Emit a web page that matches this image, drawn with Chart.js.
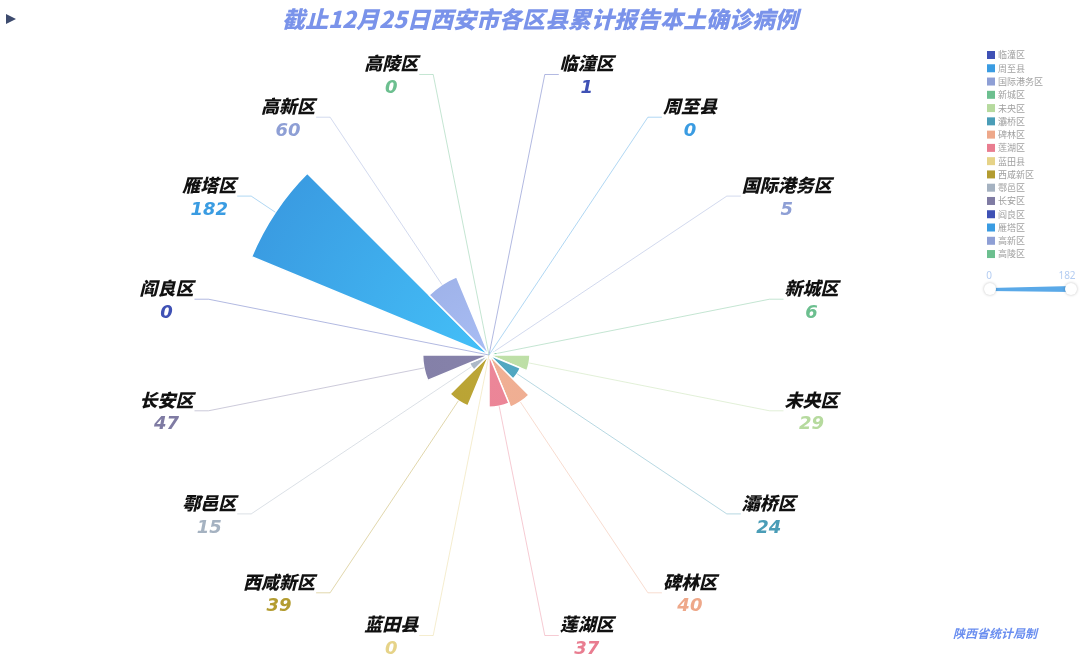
<!DOCTYPE html>
<html>
<head>
<meta charset="utf-8">
<script src="https://cdn.jsdelivr.net/npm/chart.js@4.4.0/dist/chart.umd.min.js"></script>
<style>
    html, body { margin: 0; padding: 0; background: #fff; }
    #wrap { position: relative; width: 1080px; height: 671px; }
</style>
</head>
<body>
<div id="wrap"><canvas id="rose-chart" width="1080" height="671"></canvas></div>
<script>
// Write your JavaScript code.

var districts = ["临潼区", "周至县", "国际港务区", "新城区", "未央区", "灞桥区", "碑林区", "莲湖区",
    "蓝田县", "西咸新区", "鄠邑区", "长安区", "阎良区", "雁塔区", "高新区", "高陵区"];
var cases = [1, 0, 5, 6, 29, 24, 40, 37, 0, 39, 15, 47, 0, 182, 60, 0];
var rangeMin = 0;
var rangeMax = 182;

var chartTitle = "截止12月25日西安市各区县累计报告本土确诊病例";
var footNote = "陕西省统计局制";

// palette repeats every 12 districts
var outerColors = ["#3f51b5", "#3a9ce2", "#8e9fd5", "#6cbf8f", "#b6da9e", "#4a9db7",
    "#eea88a", "#e97d90", "#e6d388", "#b39c30", "#a5b2c1", "#7f7ba3"];
var innerColors = ["#4a60c8", "#44c0f8", "#a8bdf4", "#78c99a", "#bfe0a8", "#52a8c2",
    "#f0b095", "#ec8799", "#e9d892", "#bca636", "#adb9c7", "#8682aa"];

function colorAt(i) { return outerColors[i % outerColors.length]; }

function hexAlpha(hex, a) {
    var r = parseInt(hex.substr(1, 2), 16), g = parseInt(hex.substr(3, 2), 16), b = parseInt(hex.substr(5, 2), 16);
    return "rgba(" + r + "," + g + "," + b + "," + a + ")";
}

var CX = 489, CY = 355, R = 257;

var decorPlugin = {
    id: "decor",
    afterDraw: function (chart) {
        var ctx = chart.ctx;
        ctx.save();

        // title
        ctx.font = "italic 900 23px 'Noto Sans CJK SC'";
        ctx.textAlign = "center";
        ctx.textBaseline = "middle";
        ctx.fillStyle = "#7a93ea";
        ctx.fillText(chartTitle, 540, 19);

        // little arrow top left
        ctx.fillStyle = "#3d4b6e";
        ctx.beginPath();
        ctx.moveTo(6, 14); ctx.lineTo(16, 19); ctx.lineTo(6, 24); ctx.closePath();
        ctx.fill();

        // footer
        ctx.font = "italic bold 12px 'Noto Sans CJK SC'";
        ctx.fillStyle = "#6b8ff0";
        ctx.textAlign = "left";
        ctx.fillText(footNote, 953, 633);

        // legend
        ctx.font = "9px 'Noto Sans CJK SC'";
        ctx.textBaseline = "middle";
        for (var i = 0; i < districts.length; i++) {
            var ly = 55 + i * 13.27;
            ctx.fillStyle = colorAt(i);
            ctx.fillRect(987, ly - 4, 8, 8);
            ctx.fillStyle = "#a0a0a0";
            ctx.fillText(districts[i], 998, ly);
        }

        // visual map slider
        ctx.font = "10px 'Noto Sans'";
        ctx.fillStyle = "#b4cdf2";
        ctx.textAlign = "center";
        ctx.fillText(String(rangeMin), 989, 276);
        ctx.fillText(String(rangeMax), 1067, 276);
        ctx.fillStyle = "#5aa9e8";
        ctx.beginPath();
        ctx.moveTo(990, 288); ctx.lineTo(1072, 286); ctx.lineTo(1072, 292); ctx.lineTo(990, 291); ctx.closePath();
        ctx.fill();
        [990, 1071].forEach(function (hx) {
            ctx.save();
            ctx.shadowColor = "rgba(0,0,0,0.25)";
            ctx.shadowBlur = 3;
            ctx.fillStyle = "#fff";
            ctx.beginPath();
            ctx.arc(hx, 289, 6, 0, Math.PI * 2);
            ctx.fill();
            ctx.restore();
        });

        ctx.restore();
    },
    afterDatasetsDraw: function (chart) {
        var ctx = chart.ctx;
        var arcs = chart.getDatasetMeta(0).data;
        var scale = chart.scales.r;
        var bendR = scale.drawingArea + 29;
        ctx.save();
        arcs.forEach(function (arc, i) {
            var mid = (arc.startAngle + arc.endAngle) / 2;
            var r0 = Math.max(arc.outerRadius, 0);
            var x0 = arc.x + Math.cos(mid) * r0, y0 = arc.y + Math.sin(mid) * r0;
            var x1 = arc.x + Math.cos(mid) * bendR, y1 = arc.y + Math.sin(mid) * bendR;
            var right = Math.cos(mid) >= 0;
            var x2 = x1 + (right ? 14 : -14);
            ctx.strokeStyle = hexAlpha(colorAt(i), 0.4);
            ctx.lineWidth = 1;
            ctx.beginPath();
            ctx.moveTo(x0, y0); ctx.lineTo(x1, y1); ctx.lineTo(x2, y1);
            ctx.stroke();

            ctx.font = "italic 900 18px 'Noto Sans CJK SC'";
            var w = ctx.measureText(districts[i]).width;
            var tx = right ? x2 + 1 : x2 - 1 - w;
            ctx.textAlign = "left";
            ctx.textBaseline = "middle";
            ctx.fillStyle = "#111";
            ctx.fillText(districts[i], tx, y1 - 11);
            ctx.font = "italic bold 18px 'DejaVu Sans'";
            ctx.textAlign = "center";
            ctx.fillStyle = colorAt(i);
            ctx.fillText(String(cases[i]), tx + w / 2, y1 + 14);
        });
        ctx.restore();
    }
};

new Chart(document.getElementById("rose-chart"), {
    type: "polarArea",
    data: {
        labels: districts,
        datasets: [{
            data: cases,
            borderColor: "#fff",
            borderWidth: 1.5,
            backgroundColor: function (c) {
                var i = c.dataIndex;
                var ch = c.chart;
                if (!ch.chartArea) { return colorAt(i); }
                var s = ch.scales.r;
                var g = ch.ctx.createRadialGradient(s.xCenter, s.yCenter, 0, s.xCenter, s.yCenter, s.drawingArea);
                g.addColorStop(0, innerColors[i % innerColors.length]);
                g.addColorStop(1, outerColors[i % outerColors.length]);
                return g;
            }
        }]
    },
    options: {
        responsive: false,
        animation: false,
        layout: { padding: { left: CX - R, right: 1080 - CX - R, top: CY - R, bottom: 671 - CY - R } },
        plugins: {
            legend: { display: false },
            tooltip: { enabled: false }
        },
        scales: {
            r: {
                min: rangeMin,
                max: rangeMax,
                ticks: { display: false },
                grid: { display: false },
                angleLines: { display: false },
                pointLabels: { display: false }
            }
        }
    },
    plugins: [decorPlugin]
});
</script>
</body>
</html>
